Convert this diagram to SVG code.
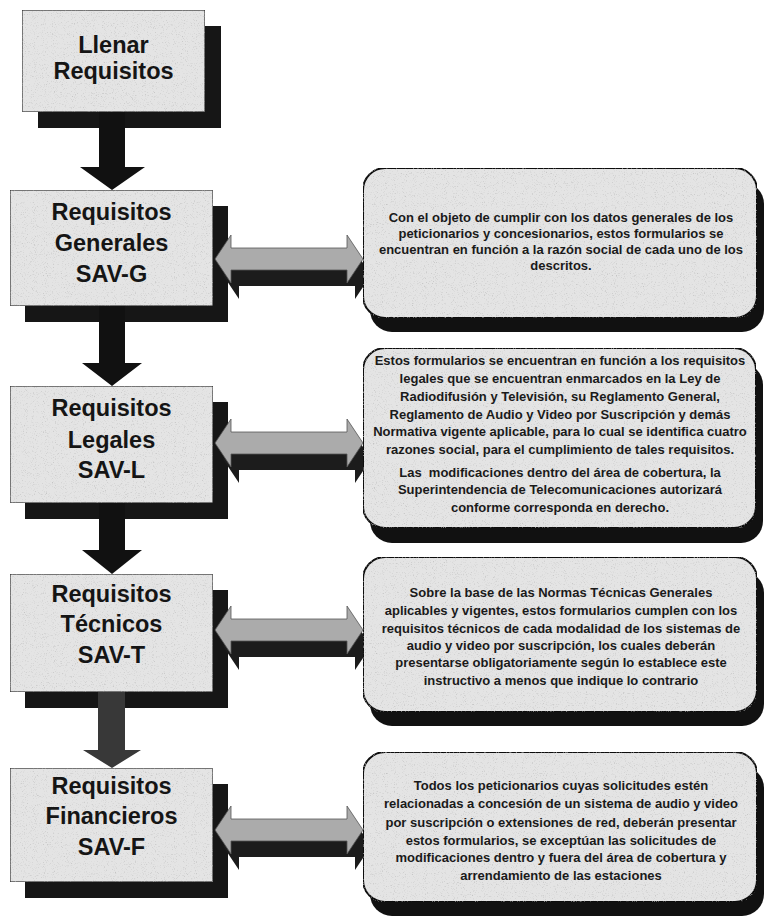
<svg xmlns="http://www.w3.org/2000/svg" width="764" height="920" viewBox="0 0 764 920">
<defs>
<filter id="tex" x="0" y="0" width="100%" height="100%">
<feTurbulence type="fractalNoise" baseFrequency="0.9" numOctaves="2" seed="7" result="n"/>
<feColorMatrix in="n" type="matrix" values="0 0 0 0 0.45  0 0 0 0 0.45  0 0 0 0 0.45  2.2 0 0 0 -1.25" result="dots"/>
<feComposite in="dots" in2="SourceGraphic" operator="in" result="clip"/>
<feMerge><feMergeNode in="SourceGraphic"/><feMergeNode in="clip"/></feMerge>
</filter>
<style>
.bg{fill:#ffffff}
.lbox{fill:#e4e4e4;stroke:#2a2a2a;stroke-width:1.2}
.lsh{fill:#161616}
.rbox{fill:#e4e4e4;stroke:#111;stroke-width:2}
.rsh{fill:#111}
.ltxt{font-family:"Liberation Sans",Arial,sans-serif;font-weight:bold;font-size:23.5px;fill:#151515;text-anchor:middle}
.rtxt{font-family:"Liberation Sans",Arial,sans-serif;font-weight:bold;font-size:13px;fill:#1a1a1a;text-anchor:middle}
.down{fill:#111}
.dbl{fill:#ababab;stroke:#555;stroke-width:0.8}
.dblsh{fill:#1c1c1c}
</style>
</defs>
<rect class="bg" x="0" y="0" width="764" height="920"/>

<g id="shadows">
<rect class="lsh" x="38" y="26" width="183" height="102"/>
<rect class="lsh" x="25" y="206" width="203" height="116"/>
<rect class="lsh" x="25" y="402" width="203" height="117"/>
<rect class="lsh" x="25" y="590" width="203" height="118"/>
<rect class="lsh" x="25" y="784" width="203" height="114"/>
</g>

<g id="connectors">
<path class="down" d="M99,112 H125 V167 H145 L112,190 L80,167 H99 Z"/>
<path class="down" d="M99,306 H125 V363 H142 L112,386 L82,363 H99 Z"/>
<path class="down" d="M99,503 H125 V550 H142 L112,574 L82,550 H99 Z"/>
<path class="down" style="fill:#383838" d="M98,692 H125 V750 H141 L112,768 L83,750 H98 Z"/>
<path class="dblsh" d="M223,275 L239,251 L239,264 L355,264 L355,251 L371,275 L355,299 L355,286 L239,286 L239,299 Z"/>
<path class="dbl" d="M215,259 L231,235 L231,248 L347,248 L347,235 L363,259 L347,283 L347,270 L231,270 L231,283 Z"/>
<path class="dblsh" d="M223,459 L239,435 L239,448 L355,448 L355,435 L371,459 L355,483 L355,470 L239,470 L239,483 Z"/>
<path class="dbl" d="M215,443 L231,419 L231,432 L347,432 L347,419 L363,443 L347,467 L347,454 L231,454 L231,467 Z"/>
<path class="dblsh" d="M223,646 L239,622 L239,635 L355,635 L355,622 L371,646 L355,670 L355,657 L239,657 L239,670 Z"/>
<path class="dbl" d="M215,630 L231,606 L231,619 L347,619 L347,606 L363,630 L347,654 L347,641 L231,641 L231,654 Z"/>
<path class="dblsh" d="M223,846 L239,822 L239,835 L355,835 L355,822 L371,846 L355,870 L355,857 L239,857 L239,870 Z"/>
<path class="dbl" d="M215,830 L231,806 L231,819 L347,819 L347,806 L363,830 L347,854 L347,841 L231,841 L231,854 Z"/>
</g>

<g id="n1">
<rect class="lbox" filter="url(#tex)" x="22" y="10" width="183" height="102"/>
<text class="ltxt" x="113.5" y="53">Llenar</text>
<text class="ltxt" x="113.5" y="79">Requisitos</text>
</g>

<g id="n2">
<rect class="lbox" filter="url(#tex)" x="10" y="190" width="203" height="116"/>
<text class="ltxt" x="111.5" y="220">Requisitos</text>
<text class="ltxt" x="111.5" y="251">Generales</text>
<text class="ltxt" x="111.5" y="282">SAV-G</text>
</g>

<g id="n3">
<rect class="lbox" filter="url(#tex)" x="10" y="386" width="203" height="117"/>
<text class="ltxt" x="111.5" y="416">Requisitos</text>
<text class="ltxt" x="111.5" y="448">Legales</text>
<text class="ltxt" x="111.5" y="478">SAV-L</text>
</g>

<g id="n4">
<rect class="lbox" filter="url(#tex)" x="10" y="574" width="203" height="118"/>
<text class="ltxt" x="111.5" y="602">Requisitos</text>
<text class="ltxt" x="111.5" y="632">Técnicos</text>
<text class="ltxt" x="111.5" y="663">SAV-T</text>
</g>

<g id="n5">
<rect class="lbox" filter="url(#tex)" x="10" y="768" width="203" height="114"/>
<text class="ltxt" x="111.5" y="794">Requisitos</text>
<text class="ltxt" x="111.5" y="824">Financieros</text>
<text class="ltxt" x="111.5" y="855">SAV-F</text>
</g>

<g id="d1">
<rect class="rsh" x="370" y="182" width="394" height="150" rx="22"/>
<rect class="rbox" filter="url(#tex)" x="363" y="168" width="394" height="150" rx="22"/>
<text class="rtxt" x="561" y="222">Con el objeto de cumplir con los datos generales de los</text>
<text class="rtxt" x="561" y="238">peticionarios y concesionarios, estos formularios se</text>
<text class="rtxt" x="561" y="254">encuentran en función a la razón social de cada uno de los</text>
<text class="rtxt" x="561" y="270">descritos.</text>
</g>

<g id="d2">
<rect class="rsh" x="370" y="363" width="393" height="180" rx="22"/>
<rect class="rbox" filter="url(#tex)" x="363" y="348" width="393" height="180" rx="22"/>
<text class="rtxt" x="560" y="365">Estos formularios se encuentran en función a los requisitos</text>
<text class="rtxt" x="560" y="383">legales que se encuentran enmarcados en la Ley de</text>
<text class="rtxt" x="560" y="401">Radiodifusión y Televisión, su Reglamento General,</text>
<text class="rtxt" x="560" y="419">Reglamento de Audio y Video por Suscripción y demás</text>
<text class="rtxt" x="560" y="436">Normativa vigente aplicable, para lo cual se identifica cuatro</text>
<text class="rtxt" x="560" y="454">razones social, para el cumplimiento de tales requisitos.</text>
<text class="rtxt" x="560" y="477" xml:space="preserve">Las  modificaciones dentro del área de cobertura, la</text>
<text class="rtxt" x="560" y="494">Superintendencia de Telecomunicaciones autorizará</text>
<text class="rtxt" x="560" y="512">conforme corresponda en derecho.</text>
</g>

<g id="d3">
<rect class="rsh" x="370" y="571" width="394" height="155" rx="22"/>
<rect class="rbox" filter="url(#tex)" x="363" y="557" width="394" height="155" rx="22"/>
<text class="rtxt" x="561" y="597">Sobre la base de las Normas Técnicas Generales</text>
<text class="rtxt" x="561" y="615">aplicables y vigentes, estos formularios cumplen con los</text>
<text class="rtxt" x="561" y="633">requisitos técnicos de cada modalidad de los sistemas de</text>
<text class="rtxt" x="561" y="650">audio y video por suscripción, los cuales deberán</text>
<text class="rtxt" x="561" y="667">presentarse obligatoriamente según lo establece este</text>
<text class="rtxt" x="561" y="685">instructivo a menos que indique lo contrario</text>
</g>

<g id="d4">
<rect class="rsh" x="370" y="766" width="394" height="150" rx="22"/>
<rect class="rbox" filter="url(#tex)" x="363" y="752" width="394" height="150" rx="22"/>
<text class="rtxt" x="561" y="790">Todos los peticionarios cuyas solicitudes estén</text>
<text class="rtxt" x="561" y="808">relacionadas a concesión de un sistema de audio y video</text>
<text class="rtxt" x="561" y="827">por suscripción o extensiones de red, deberán presentar</text>
<text class="rtxt" x="561" y="845">estos formularios, se exceptúan las solicitudes de</text>
<text class="rtxt" x="561" y="862">modificaciones dentro y fuera del área de cobertura y</text>
<text class="rtxt" x="561" y="880">arrendamiento de las estaciones</text>
</g>
</svg>
